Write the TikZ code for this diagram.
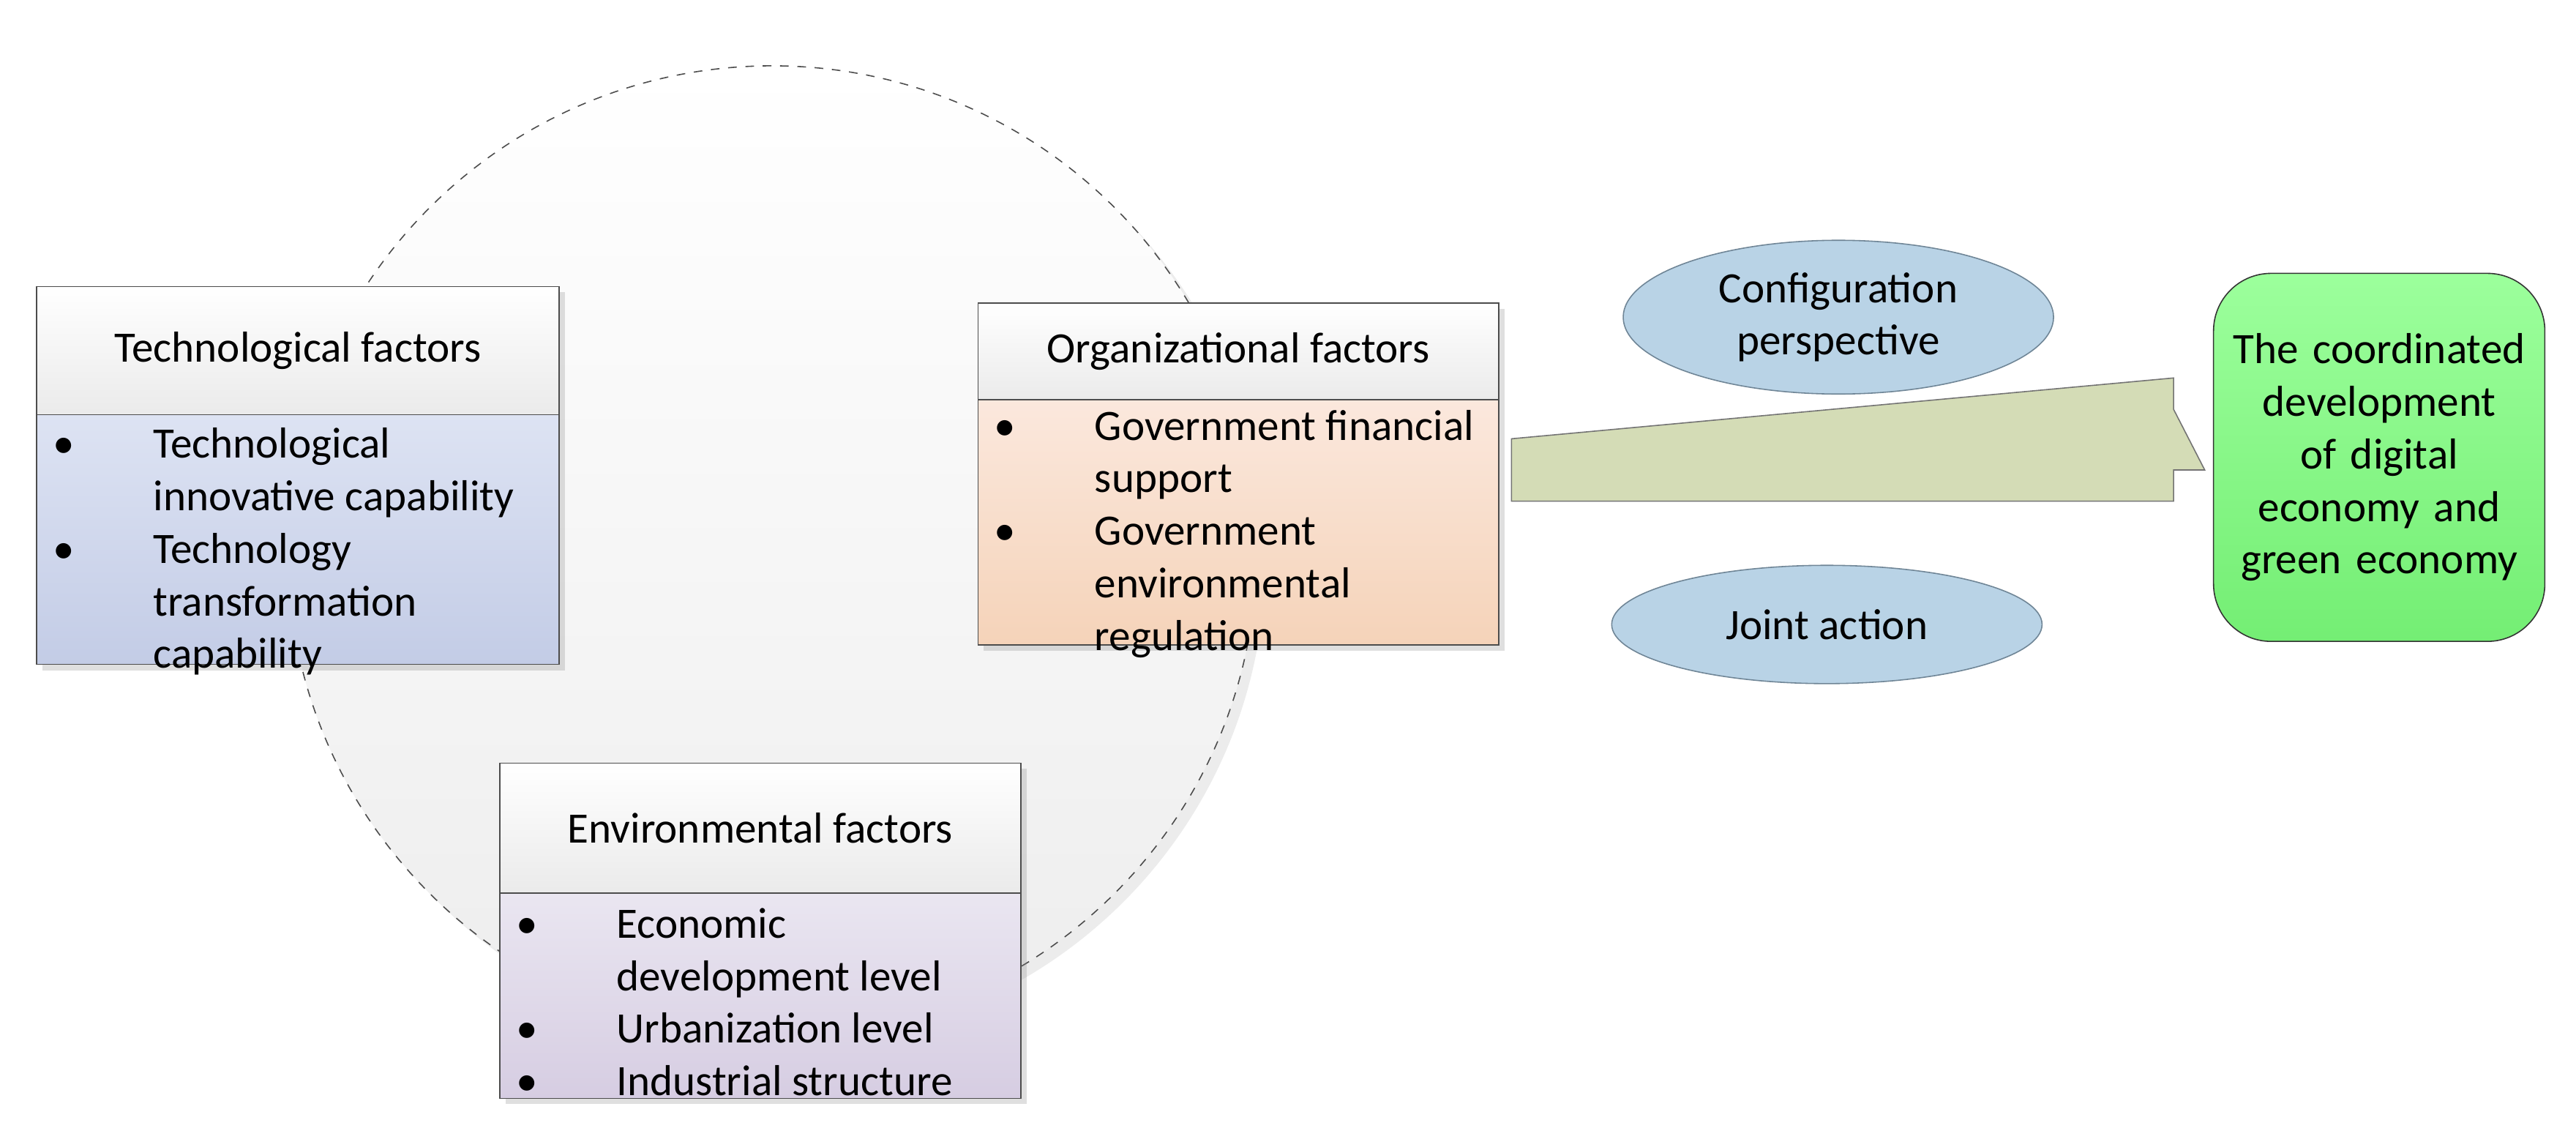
\documentclass[tikz,border=0pt]{standalone}
\usepackage{fontspec}
\usepackage{array}
\setmainfont{Carlito}
\usetikzlibrary{shapes.geometric,shadows}

\definecolor{techbody}{HTML}{DDE3F3}
\definecolor{techbot}{HTML}{C3CCE6}
\definecolor{orgbody}{HTML}{FBE8DD}
\definecolor{orgbot}{HTML}{F5D3B9}
\definecolor{envbody}{HTML}{EAE6F1}
\definecolor{envbot}{HTML}{D6CDE2}
\definecolor{ellfill}{HTML}{B9D3E6}
\definecolor{ellline}{HTML}{6F8596}
\definecolor{arrfill}{HTML}{D4DCB6}
\definecolor{greentop}{HTML}{9CFF9C}
\definecolor{greenbot}{HTML}{74EE74}

\newcommand{\pt}[1]{\textbullet & #1\\}

\begin{document}
\begin{tikzpicture}
[
x=0.02cm, y=-0.02cm,
font=\fontsize{15}{18.2}\selectfont,
head/.style={draw=black!70, top color=white, bottom color=black!8, drop shadow={shadow xshift=2pt,shadow yshift=-2pt,opacity=.25}},
body/.style={draw=black!70, anchor=north west, inner sep=0, drop shadow={shadow xshift=2pt,shadow yshift=-2pt,opacity=.25}},
oval/.style={ellipse, draw=ellline, fill=ellfill, align=center},
]
\useasboundingbox (0,0) rectangle (1568,688);

% circle
\node[circle, draw=black!70, dashed, top color=white, bottom color=black!7, minimum size=11.8cm,
      drop shadow={shadow xshift=3pt,shadow yshift=-3pt,opacity=.15}] (ring) at (470,335) {};

% technological
\node[head, anchor=north west, minimum width=6.36cm, minimum height=1.56cm] (techH) at (22,174) {Technological factors};
\node[body, top color=techbody, bottom color=techbot, minimum width=6.36cm, minimum height=3.04cm] (techB) at (22,252) {};
\node[anchor=north west, inner sep=0] (techT) at (32,256)
  {\begin{tabular}{@{}p{1.22cm}@{}>{\raggedright\arraybackslash}p{4.8cm}@{}}
   \pt{Technological innovative capability}
   \pt{Technology transformation capability}
   \end{tabular}};

% organizational
\node[head, anchor=north west, minimum width=6.34cm, minimum height=1.18cm] (orgH) at (595,184) {Organizational factors};
\node[body, top color=orgbody, bottom color=orgbot, minimum width=6.34cm, minimum height=2.98cm] (orgB) at (595,243) {};
\node[anchor=north west, inner sep=0] (orgT) at (605,245)
  {\begin{tabular}{@{}p{1.22cm}@{}>{\raggedright\arraybackslash}p{4.9cm}@{}}
   \pt{Government financial support}
   \pt{Government environmental regulation}
   \end{tabular}};

% environmental
\node[head, anchor=north west, minimum width=6.34cm, minimum height=1.58cm] (envH) at (304,464) {Environmental factors};
\node[body, top color=envbody, bottom color=envbot, minimum width=6.34cm, minimum height=2.5cm] (envB) at (304,543) {};
\node[anchor=north west, inner sep=0] (envT) at (314,548)
  {\begin{tabular}{@{}p{1.22cm}@{}>{\raggedright\arraybackslash}p{4.8cm}@{}}
   \pt{Economic development level}
   \pt{Urbanization level}
   \pt{Industrial structure}
   \end{tabular}};

% arrow
\coordinate (arrS) at (920,286);
\coordinate (arrE) at (1342,286);
\draw[draw=black!55, fill=arrfill]
  ([yshift=-0.38cm]arrS) -- ++(403,0) -- ++(0,-19) -- (arrE) -- ++(-19,-37) -- ++(0,-19) -- ([yshift=0.38cm]arrS) -- cycle;

% ovals
\node[oval, minimum width=5.24cm, minimum height=1.52cm] (conf) at (1119,193) {Configuration\\perspective};
\node[oval, minimum width=5.24cm, minimum height=1.44cm] (joint) at (1112,380) {Joint action};

% result
\node[draw=black!80, rounded corners=0.7cm, top color=greentop, bottom color=greenbot, anchor=north west,
      minimum width=4.02cm, minimum height=4.48cm, text width=3.8cm, align=center] (goal) at (1347,166)
  {The coordinated development of digital economy and green economy};
\end{tikzpicture}
\end{document}
